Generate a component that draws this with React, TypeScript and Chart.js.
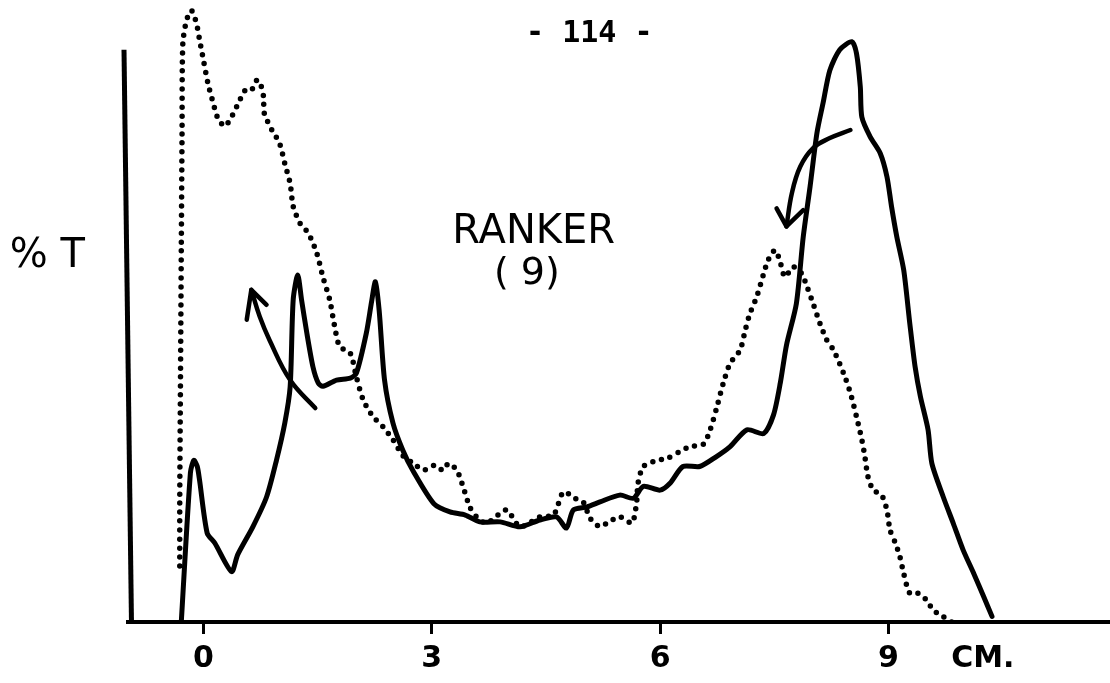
import React, { useEffect, useRef } from 'react';
import { Chart, registerables } from 'chart.js';
Chart.register(...registerables);

// ---- data (x in cm, y in arbitrary %T units) ----
const solidX = [-0.29, -0.17, -0.125, -0.08, -0.05, 0.05, 0.15, 0.37, 0.45, 0.65, 0.83, 0.96, 1.07, 1.14, 1.18, 1.24, 1.29, 1.36, 1.44, 1.51, 1.57, 1.75, 1.93, 2.01, 2.14, 2.21, 2.26, 2.31, 2.38, 2.49, 2.62, 2.75, 3.03, 3.24, 3.44, 3.63, 3.9, 4.16, 4.42, 4.64, 4.77, 4.86, 5.04, 5.21, 5.47, 5.65, 5.78, 6.0, 6.13, 6.3, 6.52, 6.74, 6.92, 7.14, 7.36, 7.49, 7.58, 7.66, 7.79, 7.88, 7.97, 8.06, 8.14, 8.23, 8.36, 8.52, 8.58, 8.63, 8.65, 8.76, 8.89, 8.98, 9.04, 9.11, 9.2, 9.28, 9.35, 9.42, 9.52, 9.57, 9.72, 9.85, 9.98, 10.12, 10.25, 10.36];
const solidY = [0, 24, 26, 25, 22.8, 14.3, 12.7, 8.1, 10.8, 15.3, 20.1, 26, 32, 37.8, 51.8, 55.8, 51.8, 46.4, 41, 38.4, 37.9, 38.9, 39.2, 40, 46.4, 51.5, 54.7, 50, 38.9, 32, 27.6, 24.4, 19, 17.7, 17.2, 16.1, 16.1, 15.3, 16.4, 16.9, 15.1, 18, 18.5, 19.3, 20.4, 19.9, 21.8, 21.2, 22.3, 25, 25, 26.6, 28.2, 30.9, 30.3, 33.3, 38.5, 44.5, 51.2, 61.9, 70, 78.6, 83.4, 88.7, 92, 93.3, 91.4, 86, 81.2, 78, 75.4, 71.6, 66.8, 61.9, 56.6, 48, 41, 36.2, 30.9, 25.5, 20.1, 15.9, 11.6, 7.8, 4.1, 0.9];

const dottedX = [-0.31, -0.31, -0.3, -0.29, -0.28, -0.27, -0.22, -0.155, -0.09, -0.05, 0, 0.06, 0.13, 0.19, 0.28, 0.37, 0.46, 0.55, 0.63, 0.7, 0.74, 0.79, 0.8, 0.9, 1.0, 1.07, 1.14, 1.18, 1.27, 1.38, 1.49, 1.57, 1.66, 1.72, 1.79, 1.93, 2.01, 2.1, 2.23, 2.36, 2.49, 2.63, 2.76, 2.89, 3.04, 3.15, 3.22, 3.33, 3.41, 3.5, 3.59, 3.72, 3.98, 4.16, 4.42, 4.6, 4.73, 4.88, 4.99, 5.08, 5.21, 5.3, 5.47, 5.63, 5.69, 5.71, 5.78, 5.96, 6.09, 6.26, 6.39, 6.57, 6.66, 6.74, 6.83, 6.92, 7.05, 7.12, 7.18, 7.27, 7.36, 7.42, 7.51, 7.57, 7.64, 7.75, 7.86, 7.93, 8.01, 8.1, 8.19, 8.28, 8.41, 8.5, 8.58, 8.65, 8.69, 8.73, 8.8, 8.91, 8.98, 9.02, 9.09, 9.15, 9.2, 9.28, 9.39, 9.5, 9.59, 9.72, 9.83];
const dottedY = [9, 20, 40, 60, 78.6, 93, 96.8, 98.3, 96.2, 93.6, 90.4, 86.6, 83.4, 81, 79.7, 81.2, 83.4, 85.5, 85.5, 87.1, 86.9, 84.5, 81.8, 79.1, 77, 73.7, 70.5, 66.8, 64.1, 62.5, 59.3, 55.5, 51.8, 47.8, 44.3, 43.2, 39.4, 35.7, 33, 31.4, 29.3, 26.6, 25.5, 24.4, 25.2, 24.4, 25.5, 24.4, 21.8, 18.5, 16.9, 15.9, 18, 15.3, 16.9, 17.2, 20.9, 19.9, 19.3, 16.7, 15.3, 15.9, 16.9, 15.9, 19.1, 22.3, 25, 26, 26.3, 27.4, 28.2, 28.6, 31, 34.3, 38.4, 41.6, 43.7, 47, 49.6, 52.3, 56, 58.2, 59.8, 58.2, 55.5, 57.1, 56, 53.9, 51.2, 48, 45.3, 43.7, 40, 36.8, 33, 29.3, 26.6, 23.4, 21.2, 20.4, 18, 14.8, 12.7, 10.5, 7.8, 4.6, 4.6, 3.5, 1.9, 0.85, 0];

const arrowLeftX = [1.47, 1.14, 0.87, 0.74, 0.63];
const arrowLeftY = [34.4, 38.9, 45.3, 49.1, 53.4];
const headLeftX = [0.83, 0.63, 0.57];
const headLeftY = [51, 53.4, 48.6];
const arrowRightX = [8.5, 8.23, 8.01, 7.84, 7.73, 7.66];
const arrowRightY = [79.1, 77.8, 76.2, 73.2, 68.9, 63.6];
const headRightX = [7.53, 7.66, 7.88];
const headRightY = [66.5, 63.6, 66.2];

const xTickValues = [0, 3, 6, 9];
const unitTickValue = 10.24;
const unitLabel = 'CM.';

const pageLabel = '- 114 -';
const sampleName = 'RANKER';
const sampleNo = '( 9)';
const yAxisLabel = '% T';

const zip = (xs: number[], ys: number[]) => xs.map((x, i) => ({ x, y: ys[i] }));

const overlayPlugin = {
  id: 'overlay',
  afterDraw(chart: any) {
    const { ctx, chartArea } = chart;
    const xs = chart.scales.x;
    const ys = chart.scales.y;
    ctx.save();
    // hand-drawn y axis line (slightly slanted, starts below the top)
    ctx.strokeStyle = '#000';
    ctx.lineWidth = 5;
    ctx.beginPath();
    ctx.moveTo(chartArea.left - 4, ys.getPixelForValue(92));
    ctx.lineTo(chartArea.left + 3.5, chartArea.bottom + 2);
    ctx.stroke();
    // texts
    ctx.fillStyle = '#000';
    ctx.textAlign = 'center';
    ctx.textBaseline = 'alphabetic';
    const texts = [
      { t: pageLabel, x: 5.07, y: 93.2, f: 'bold 30px "DejaVu Sans Mono"' },
      { t: sampleName, x: 4.34, y: 60.9, f: '40px "DejaVu Sans"' },
      { t: sampleNo, x: 4.25, y: 54.3, f: '38px "DejaVu Sans"' },
      { t: yAxisLabel, x: -2.05, y: 57.1, f: '40px "DejaVu Sans"' },
    ];
    for (const a of texts) {
      ctx.font = a.f;
      ctx.fillText(a.t, xs.getPixelForValue(a.x), ys.getPixelForValue(a.y));
    }
    ctx.restore();
  },
};

export default function App() {
  const ref = useRef<HTMLCanvasElement | null>(null);
  useEffect(() => {
    if (!ref.current) return;
    const lineBase = { showLine: true, pointRadius: 0, borderColor: '#000', backgroundColor: '#000', fill: false };
    const chart = new Chart(ref.current, {
      type: 'scatter',
      data: {
        datasets: [
          { ...lineBase, label: 'solid', data: zip(solidX, solidY), borderWidth: 5, tension: 0.25, borderJoinStyle: 'round', borderCapStyle: 'round' },
          { ...lineBase, label: 'dotted', data: zip(dottedX, dottedY), borderWidth: 5.5, tension: 0.25, borderDash: [0, 9], borderCapStyle: 'round' },
          { ...lineBase, label: 'arrowL', data: zip(arrowLeftX, arrowLeftY), borderWidth: 4.5, tension: 0.4, borderCapStyle: 'round' },
          { ...lineBase, label: 'headL', data: zip(headLeftX, headLeftY), borderWidth: 4.5, tension: 0, borderCapStyle: 'round', borderJoinStyle: 'round' },
          { ...lineBase, label: 'arrowR', data: zip(arrowRightX, arrowRightY), borderWidth: 4.5, tension: 0.4, borderCapStyle: 'round' },
          { ...lineBase, label: 'headR', data: zip(headRightX, headRightY), borderWidth: 4.5, tension: 0, borderCapStyle: 'round', borderJoinStyle: 'round' },
        ] as any,
      },
      options: {
        animation: false,
        responsive: false,
        maintainAspectRatio: false,
        layout: { padding: 0 },
        plugins: { legend: { display: false }, tooltip: { enabled: false }, title: { display: false } },
        scales: {
          x: {
            type: 'linear',
            min: -0.99,
            max: 11.91,
            afterBuildTicks: (s: any) => {
              s.ticks = [...xTickValues, unitTickValue].map((v) => ({ value: v }));
            },
            afterFit: (s: any) => {
              s.height = 61;
            },
            ticks: {
              autoSkip: false,
              maxRotation: 0,
              padding: 7,
              color: '#000',
              font: { family: '"DejaVu Sans"', size: 30, weight: 'bold' },
              callback: (v: any) => (v === unitTickValue ? unitLabel : String(v)),
            },
            grid: {
              drawOnChartArea: false,
              drawTicks: true,
              tickLength: 12,
              tickWidth: 3,
              tickColor: (c: any) => (c.tick && c.tick.value === unitTickValue ? 'rgba(0,0,0,0)' : '#000'),
            },
            border: { display: true, color: '#000', width: 4 },
          },
          y: {
            type: 'linear',
            min: 0,
            max: 100,
            afterFit: (s: any) => {
              s.width = 128;
            },
            ticks: { display: false },
            grid: { display: false },
            border: { display: false },
          },
        },
      } as any,
      plugins: [overlayPlugin],
    });
    return () => chart.destroy();
  }, []);
  return (
    <div style={{ position: 'absolute', left: 0, top: 0, width: 1110, height: 683, background: '#fff' }}>
      <canvas ref={ref} width={1110} height={683} style={{ display: 'block' }} />
    </div>
  );
}
